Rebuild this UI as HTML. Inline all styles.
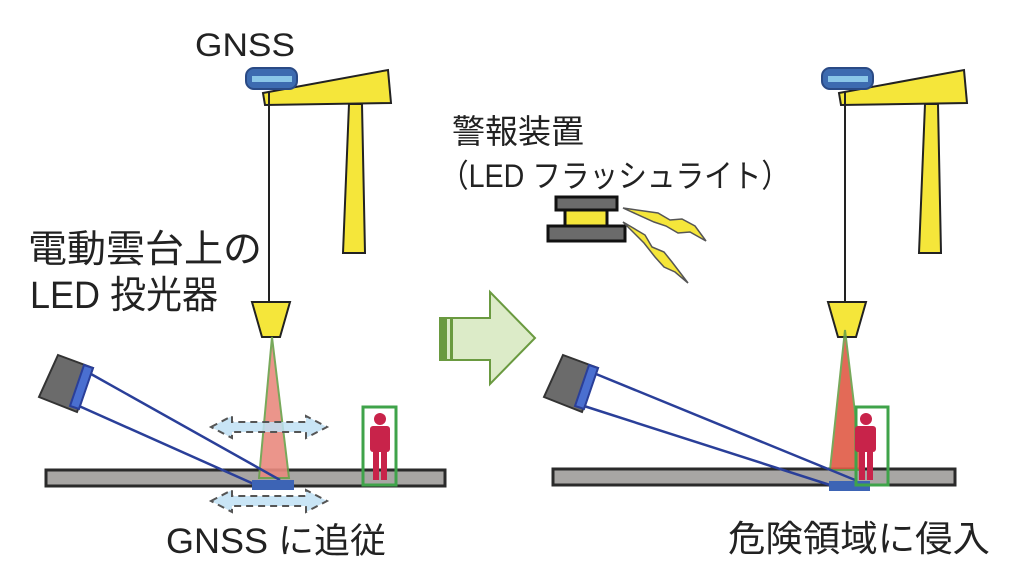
<!DOCTYPE html>
<html><head><meta charset="utf-8"><style>
html,body{margin:0;padding:0;background:#fff;}
svg{display:block}
text{font-family:"Liberation Sans","Noto Sans CJK JP",sans-serif;fill:#222;}
</style></head><body>
<svg width="1014" height="570" viewBox="0 0 1014 570" xmlns="http://www.w3.org/2000/svg">
<defs>
<g id="crane">
  <polygon points="263,93 388,70 391,103 265,105" fill="#f5e63a" stroke="#222" stroke-width="2"/>
  <polygon points="349,104 362,104 365,253 343,253" fill="#f5e63a" stroke="#222" stroke-width="2"/>
  <rect x="246" y="68" width="51" height="21" rx="8" fill="#3d6bb0" stroke="#2a4a85" stroke-width="2"/>
  <rect x="252" y="76" width="40" height="6" fill="#8ac6e8"/>
  <line x1="269" y1="92" x2="269" y2="303" stroke="#222" stroke-width="2"/>
  <polygon points="252,302 290,302 280,337 262,337" fill="#f5e63a" stroke="#222" stroke-width="2"/>
</g>
<g id="cam">
  <polygon points="58,355 93,368 77,412 39,397" fill="#6b6b6b" stroke="#333" stroke-width="2"/>
  <polygon points="84,365 93,368 79,409 70,406" fill="#4a6fd0" stroke="#2a3f99" stroke-width="2"/>
</g>
</defs>

<text x="195" y="56" font-size="32" textLength="100" lengthAdjust="spacingAndGlyphs">GNSS</text>
<use href="#crane"/>
<text x="28" y="262" font-size="38" textLength="234" lengthAdjust="spacingAndGlyphs">電動雲台上の</text>
<text x="30" y="308" font-size="38" textLength="188" lengthAdjust="spacingAndGlyphs">LED 投光器</text>

<rect x="46" y="470" width="399" height="16" fill="#a8a6a4" stroke="#2a2a2a" stroke-width="3"/>
<polygon points="272,337 259,478 289,478" fill="#e98a7f" stroke="#6aa04a" stroke-width="2" opacity="0.9"/>
<use href="#cam"/>
<line x1="91" y1="374" x2="280" y2="480" stroke="#2a3f99" stroke-width="2.5"/>
<line x1="79" y1="406" x2="256" y2="485" stroke="#2a3f99" stroke-width="2.5"/>
<rect x="252" y="480" width="42" height="10" fill="#3d64b5"/>
<g fill="#bfe0f5" fill-opacity="0.85" stroke="#555" stroke-width="2" stroke-dasharray="7,5">
<polygon points="211,427 232,416 232,422 306,422 306,416 327,427 306,438 306,432 232,432 232,438"/>
<polygon points="211,501 232,490 232,496 306,496 306,490 327,501 306,512 306,506 232,506 232,512"/>
</g>
<rect x="363" y="407" width="33" height="78" fill="none" stroke="#3fa34a" stroke-width="3"/>
<g fill="#c8234a">
<circle cx="380" cy="419" r="6"/>
<rect x="370" y="426" width="20" height="26" rx="3"/>
<rect x="373" y="450" width="6" height="30"/>
<rect x="381" y="450" width="6" height="30"/>
</g>
<text x="166" y="553" font-size="35" textLength="220" lengthAdjust="spacingAndGlyphs">GNSS に追従</text>

<polygon points="440,318 490,318 490,292 535,338 490,384 490,360 440,360" fill="#dcebc8" stroke="#6a9a40" stroke-width="2"/>
<rect x="441" y="319" width="6" height="40" fill="#6a9a40"/>
<rect x="450" y="319" width="3" height="40" fill="#6a9a40"/>

<text x="452" y="143" font-size="33" textLength="132" lengthAdjust="spacingAndGlyphs">警報装置</text>
<text x="440" y="187" font-size="32" textLength="350" lengthAdjust="spacingAndGlyphs">（LED フラッシュライト）</text>
<rect x="556" y="197" width="61" height="13" fill="#6b6b6b" stroke="#111" stroke-width="3"/>
<rect x="565" y="210" width="42" height="16" fill="#f5e63a" stroke="#111" stroke-width="3"/>
<rect x="548" y="226" width="77" height="15" fill="#6b6b6b" stroke="#111" stroke-width="3"/>
<polygon points="623,208 658,213 670,220 682,219 695,226 706,241 690,232 678,233 666,226 654,222" fill="#f5e63a" stroke="#555" stroke-width="1.5"/>
<polygon points="623,222 645,235 652,247 664,252 672,262 688,283 675,272 664,267 655,257 644,243" fill="#f5e63a" stroke="#555" stroke-width="1.5"/>

<use href="#crane" transform="translate(576,0)"/>
<rect x="553" y="469" width="402" height="16" fill="#a8a6a4" stroke="#2a2a2a" stroke-width="3"/>
<polygon points="845,330 830,470 862,470" fill="#e05a45" stroke="#6aa04a" stroke-width="2" opacity="0.9"/>
<use href="#cam" transform="translate(505,0)"/>
<line x1="596" y1="374" x2="855" y2="480" stroke="#2a3f99" stroke-width="2.5"/>
<line x1="584" y1="406" x2="830" y2="485" stroke="#2a3f99" stroke-width="2.5"/>
<rect x="829" y="481" width="41" height="10" fill="#3d64b5"/>
<rect x="856" y="407" width="32" height="78" fill="none" stroke="#3fa34a" stroke-width="3"/>
<g fill="#c8234a">
<circle cx="866" cy="419" r="6"/>
<rect x="855" y="426" width="21" height="26" rx="3"/>
<rect x="859" y="450" width="6" height="30"/>
<rect x="867" y="450" width="6" height="30"/>
</g>
<text x="728" y="551" font-size="36" textLength="262" lengthAdjust="spacingAndGlyphs">危険領域に侵入</text>
</svg>
</body></html>
